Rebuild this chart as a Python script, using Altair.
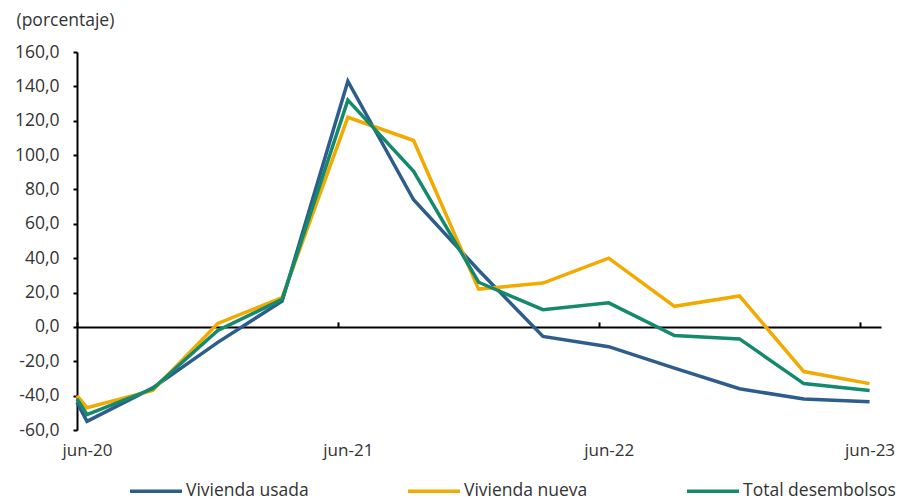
import altair as alt
import pandas as pd

fechas = ["2020-06-01", "2020-06-15", "2020-09-15", "2020-12-15", "2021-03-15",
          "2021-06-15", "2021-09-15", "2021-12-15", "2022-03-15", "2022-06-15",
          "2022-09-15", "2022-12-15", "2023-03-15", "2023-06-15"]
vivienda_usada = [-44, -55, -35.5, -9, 15, 143, 74, 33, -5.5, -11.5, -24, -36, -42, -43.5]
vivienda_nueva = [-40, -47, -37, 2, 17, 122, 108.5, 22, 25.5, 40, 12, 18, -26, -33]
total_desembolsos = [-42, -51, -36, -2, 16, 132, 90.5, 26, 10, 14, -5, -7, -33, -37]

series = ["Vivienda usada", "Vivienda nueva", "Total desembolsos"]
colores = ["#2C5D8C", "#F2A900", "#138A6C"]
tick_years = [2020, 2021, 2022, 2023]

rows = []
for name, vals in zip(series, [vivienda_usada, vivienda_nueva, total_desembolsos]):
    for f, v in zip(fechas, vals):
        rows.append({"fecha": f, "serie": name, "valor": v})
df = pd.DataFrame(rows)

FONT = "Open Sans"
FS = 17.5
TXT = "#333333"
W, H = 804, 378
PAD_L = 69
YMIN, YMAX = -60, 160
zero_px = H - (0 - YMIN) / (YMAX - YMIN) * H

tick_vals = [alt.DateTime(year=y, month=6, date=1, utc=True) for y in tick_years]
label_vals = [alt.DateTime(year=y, month=6, date=15, utc=True) for y in tick_years]
xscale = alt.Scale(type="utc",
                   domain=[alt.DateTime(year=2020, month=6, date=1, utc=True),
                           alt.DateTime(year=2023, month=7, date=1, utc=True)])
yscale = alt.Scale(domain=[YMIN, YMAX], nice=False, zero=False)

yaxis = alt.Axis(
    values=list(range(-60, 161, 20)),
    labelExpr="(datum.value < 0 ? '-' : '') + replace(format(abs(datum.value), '.1f'), '.', ',')",
    domainColor="black", domainWidth=2, tickColor="black", tickWidth=2, tickSize=4,
    grid=False, labelFont=FONT, labelFontSize=FS, labelColor=TXT, labelPadding=14,
    title="(porcentaje)", titleAngle=0, titleX=-61, titleY=-32, titleAlign="left",
    titleBaseline="middle", titleFont=FONT, titleFontSize=FS, titleFontWeight="normal",
    titleColor=TXT,
)

lines = alt.Chart(df).mark_line(strokeWidth=3.5).encode(
    x=alt.X("fecha:T", scale=xscale,
            axis=alt.Axis(orient="top", offset=-zero_px, labels=False, title=None,
                          values=tick_vals, domainColor="black", domainWidth=2,
                          tickColor="black", tickWidth=2, tickSize=5, grid=False)),
    y=alt.Y("valor:Q", scale=yscale, axis=yaxis),
    color=alt.Color("serie:N", scale=alt.Scale(domain=series, range=colores),
                    legend=alt.Legend(orient="none", legendX=51, legendY=411,
                                      direction="horizontal", columns=3, title=None,
                                      symbolType="stroke", symbolSize=2704,
                                      symbolStrokeWidth=3.5, labelFont=FONT,
                                      labelFontSize=FS, labelColor=TXT,
                                      labelOffset=2, columnPadding=92)),
    detail="serie:N",
)

labels_layer = alt.Chart(df).mark_point(opacity=0).encode(
    x=alt.X("fecha:T", scale=xscale,
            axis=alt.Axis(orient="bottom", values=label_vals, domain=False, ticks=False,
                          labelExpr="'jun-' + utcFormat(datum.value, '%y')",
                          labelFlush=False, labelBound=False,
                          labelFont=FONT, labelFontSize=17, labelColor=TXT,
                          labelPadding=12, title=None, grid=False)),
    y=alt.Y("valor:Q", scale=yscale, axis=yaxis),
)

chart = alt.layer(lines, labels_layer).resolve_axis(x="independent").properties(
    width=W, height=H,
    background="white",
    autosize=alt.AutoSizeParams(type="none"),
    padding={"left": PAD_L, "top": 44, "right": 888 - PAD_L - W, "bottom": 70},
).configure_view(stroke=None)

chart.save("out.html", embed_options={"renderer": "svg", "actions": False})
